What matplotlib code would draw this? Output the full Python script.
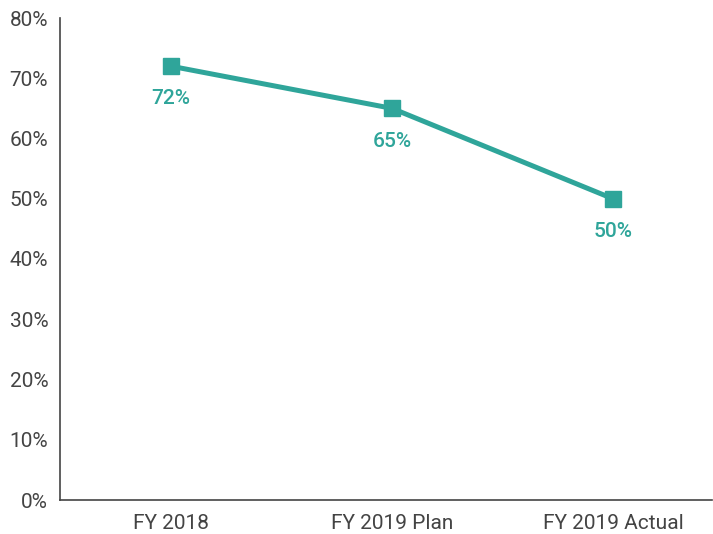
import matplotlib.pyplot as plt
from matplotlib.ticker import FuncFormatter

categories = ['FY 2018', 'FY 2019 Plan', 'FY 2019 Actual']
values = [72, 65, 50]
yticks = [0, 10, 20, 30, 40, 50, 60, 70, 80]

teal = '#2fa59a'
plt.rcParams['font.family'] = ['Roboto', 'DejaVu Sans']

fig = plt.figure(figsize=(7.13, 5.34), dpi=100)
ax = fig.add_axes([60/713, 34/534, 652/713, 482/534])

x = list(range(len(categories)))
ax.plot(x, values, color=teal, linewidth=3.6, marker='s', markersize=11.5,
        solid_joinstyle='miter')
for xi, v in zip(x, values):
    ax.annotate('%d%%' % v, (xi, v), xytext=(0, -23.5), textcoords='offset points',
                ha='center', va='center', fontsize=15, color=teal, fontweight='medium')

ax.set_xlim(-111/221, 541/221)
ax.set_ylim(0, 80)
ax.set_xticks(x)
ax.set_xticklabels(categories)
ax.set_yticks(yticks)
ax.yaxis.set_major_formatter(FuncFormatter(lambda v, p: '%d%%' % v))
ax.tick_params(length=0, labelsize=15, labelcolor='#444444')
ax.tick_params(axis='x', pad=10)
ax.tick_params(axis='y', pad=8.5)
for s in ['top', 'right']:
    ax.spines[s].set_visible(False)
for s in ['left', 'bottom']:
    ax.spines[s].set_color('#444444')
    ax.spines[s].set_linewidth(1.2)

fig.savefig('out.png', dpi=100)
